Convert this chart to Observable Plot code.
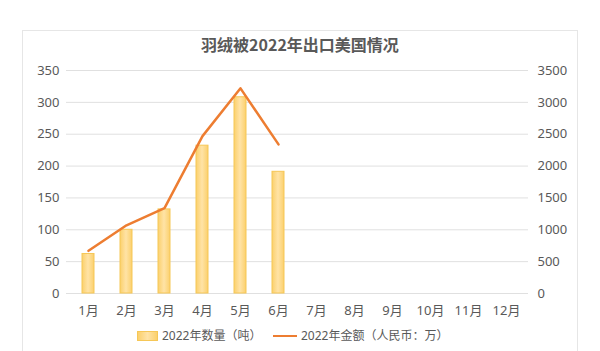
<!DOCTYPE html>
<html>
<head>
<meta charset="utf-8">
<script src="https://cdn.jsdelivr.net/npm/d3@7"></script>
<script src="https://cdn.jsdelivr.net/npm/@observablehq/plot@0.6"></script>
<style>
  html, body { margin: 0; padding: 0; background: #fff; }
  body { width: 600px; height: 351px; position: relative; overflow: hidden;
         font-family: "Noto Sans", "Noto Sans CJK SC", sans-serif; color: #595959; }
  #frame { position: absolute; left: 22px; top: 30px; width: 556px; height: 340px;
           border: 1px solid #e6e6e6; box-sizing: border-box; }
  #title { position: absolute; left: 0; top: 33px; width: 600px; text-align: center;
           font-size: 16px; font-weight: bold; line-height: 22px; color: #595959;
           font-family: "Noto Sans CJK SC", sans-serif; }
  #chart { position: absolute; left: 0; top: 60px; }
  #legend { position: absolute; left: 0; top: 327px; width: 600px; height: 18px;
            font-size: 12px; line-height: 18px; color: #595959; }
  .item { position: absolute; top: 0; display: flex; align-items: center; height: 18px; }
  .sw-bar { width: 21px; height: 10px; background: linear-gradient(90deg, #fbd06c, #ffe3a6 50%, #fbd06c);
            border: 1px solid #f6c757; box-sizing: border-box; margin-right: 4px; }
  .sw-line { width: 24px; height: 0; border-top: 2.5px solid #ed7d31; margin-right: 4px; }
</style>
</head>
<body>
<div id="frame"></div>
<div id="title">羽绒被2022年出口美国情况</div>
<div id="chart"></div>
<div id="legend"></div>
<script>
const months = ["1月","2月","3月","4月","5月","6月","7月","8月","9月","10月","11月","12月"];
const quantity = [62, 100, 132, 232, 308, 191];      // 2022年数量（吨）
const amount = [670, 1070, 1340, 2470, 3220, 2340];  // 2022年金额（人民币：万）
const leftTicks = [0, 50, 100, 150, 200, 250, 300, 350];
const rightTicks = [0, 500, 1000, 1500, 2000, 2500, 3000, 3500];
const seriesNames = ["2022年数量（吨）", "2022年金额（人民币：万）"];

const ratio = 10; // right axis max / left axis max
const barData = quantity.map((v, i) => ({month: months[i], value: v}));
const lineData = amount.map((v, i) => ({month: months[i], value: v / ratio}));

const plot = Plot.plot({
  width: 600,
  height: 260,
  marginLeft: 66,
  marginRight: 72,
  marginTop: 10,
  marginBottom: 27,
  style: {fontFamily: '"Noto Sans", "Noto Sans CJK SC", sans-serif', fontSize: "13px", color: "#595959", background: "transparent"},
  x: {type: "band", domain: months, paddingInner: 0.68, paddingOuter: 0.34, align: 0.5},
  y: {domain: [0, 350]},
  marks: [
    Plot.ruleY(leftTicks, {stroke: "#e0e0e0", strokeWidth: 1}),
    Plot.axisY(leftTicks, {anchor: "left", tickSize: 0, tickPadding: 7, fill: "#595959"}),
    Plot.axisY(leftTicks, {anchor: "right", tickSize: 0, tickPadding: 9, fill: "#595959",
      tickFormat: d => String(rightTicks[leftTicks.indexOf(d)])}),
    Plot.axisX({tickSize: 0, tickPadding: 12, fill: "#595959", label: null}),
    Plot.barY(barData, {x: "month", y: "value", fill: "url(#barGrad)", stroke: "#f6c757", strokeWidth: 1}),
    Plot.line(lineData, {x: "month", y: "value", stroke: "#ed7d31", strokeWidth: 2.5, curve: "linear"})
  ]
});
plot.querySelectorAll("[aria-label='y-axis label'], [aria-label='x-axis label']").forEach(n => n.remove());
const svg = d3.select(plot);
const defs = svg.insert("defs", ":first-child");
const g = defs.append("linearGradient").attr("id", "barGrad").attr("x1", "0").attr("x2", "1").attr("y1", "0").attr("y2", "0");
g.append("stop").attr("offset", "0%").attr("stop-color", "#fbd06c");
g.append("stop").attr("offset", "50%").attr("stop-color", "#ffe3a6");
g.append("stop").attr("offset", "100%").attr("stop-color", "#fbd06c");
document.getElementById("chart").appendChild(plot);

const legend = document.getElementById("legend");
legend.innerHTML =
  `<div class="item" style="left:137px"><span class="sw-bar"></span><span>${seriesNames[0]}</span></div>` +
  `<div class="item" style="left:273px"><span class="sw-line"></span><span>${seriesNames[1]}</span></div>`;
</script>
</body>
</html>
